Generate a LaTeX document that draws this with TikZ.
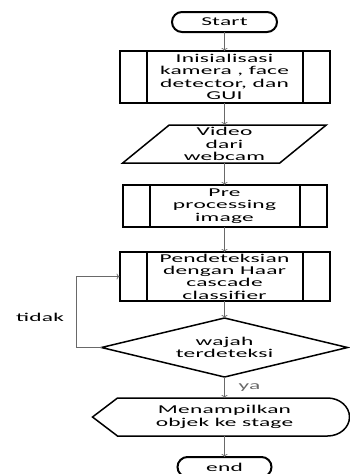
\documentclass[tikz,border=0pt]{standalone}
\usepackage{fontspec}
\setmainfont{Carlito}[FakeStretch=1.95,LetterSpace=2]
\usepackage{tikz}
\usetikzlibrary{arrows.meta,positioning,shapes.geometric,calc}
\definecolor{linkgray}{RGB}{105,105,105}

\begin{document}
\begin{tikzpicture}[
  every node/.style={font=\fontsize{12}{12.3}\selectfont, align=center,
    inner sep=0pt, outer sep=0pt},
  term/.style={draw, line width=2pt, rounded corners=10pt,
    minimum height=20pt},
  proc/.style={draw, line width=2pt, minimum width=210pt,
    path picture={\draw[line width=2pt]
      ([xshift=27pt]path picture bounding box.north west) --
      ([xshift=27pt]path picture bounding box.south west)
      ([xshift=-27pt]path picture bounding box.north east) --
      ([xshift=-27pt]path picture bounding box.south east);}},
  io/.style={draw, trapezium, trapezium left angle=44,
    trapezium right angle=136, trapezium stretches=true,
    line width=1.5pt, minimum width=204pt, minimum height=38pt},
  outline/.style={line width=1.5pt, line join=miter},
  arr/.style={-{To[length=3pt,width=6pt]}, line width=0.7pt, color=linkgray}]
\useasboundingbox (0,0) rectangle (350pt,-474pt);
\node[term, minimum width=105pt] (start) at (224.5pt,-22pt) {Start};
\node[proc, minimum height=52pt, below=19pt of start] (init)
  {Inisialisasi\\kamera , face\\detector, dan\\GUI};
\node[io, below=22pt of init] (video) {Video\\dari\\webcam};
\node[proc, minimum height=42pt, minimum width=204pt, below=22pt of video]
  (pre) {Pre\\processing\\image};
\node[proc, minimum height=49pt, below=25pt of pre] (haar)
  {Pendeteksian\\dengan Haar\\cascade\\classifier};
\node[minimum width=246pt, minimum height=59pt, below=17pt of haar] (cek)
  {wajah\\terdeteksi};
\draw[outline] (cek.west) -- (cek.north) -- (cek.east) -- (cek.south) -- cycle;
\node[minimum width=250pt, minimum height=38pt, below=21pt of cek] (tampil)
  {Menampilkan\\objek ke stage};
\draw[outline] ([xshift=-7pt]tampil.west) --
  ([xshift=18pt]tampil.north west) -- ([xshift=-22pt]tampil.north east)
  arc[start angle=90, end angle=-90, x radius=22pt, y radius=19pt] --
  ([xshift=18pt]tampil.south west) -- cycle;
\node[term, minimum width=94pt, below=21pt of tampil] (stop) {end};
\node (tidak) at (40pt,-317pt) {tidak};
\draw[arr] (start) -- (init);
\draw[arr] (init) -- (video);
\draw[arr] (video) -- (pre);
\draw[arr] (pre) -- (haar);
\draw[arr] (haar) -- (cek);
\draw[arr] (cek) -- node[right=14pt] (ya) {ya} (tampil);
\draw[arr] (tampil) -- (stop);
\draw[arr] (cek.west) -- ++(-25pt,0) |- (haar.west);
\end{tikzpicture}
\end{document}
